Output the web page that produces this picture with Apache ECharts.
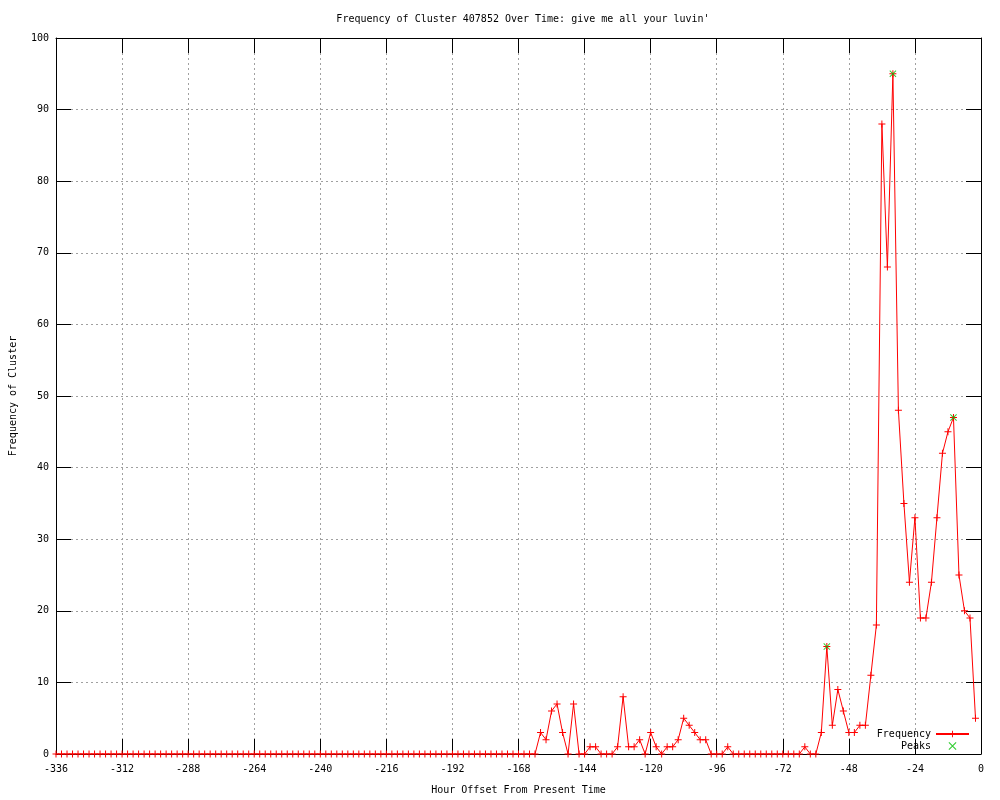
<!DOCTYPE html>
<html>
<head>
<meta charset="utf-8">
<script src="https://cdn.jsdelivr.net/npm/echarts@6/dist/echarts.min.js"></script>
<style>html,body{margin:0;padding:0;background:#fff;}#c{width:1000px;height:800px;}</style>
</head>
<body>
<div id="c"></div>
<script>
const titleText = "Frequency of Cluster 407852 Over Time: give me all your luvin'";
const xName = "Hour Offset From Present Time";
const yName = "Frequency of Cluster";

const hours = [
  -336,-334,-332,-330,-328,-326,-324,-322,-320,-318,-316,-314,
  -312,-310,-308,-306,-304,-302,-300,-298,-296,-294,-292,-290,
  -288,-286,-284,-282,-280,-278,-276,-274,-272,-270,-268,-266,
  -264,-262,-260,-258,-256,-254,-252,-250,-248,-246,-244,-242,
  -240,-238,-236,-234,-232,-230,-228,-226,-224,-222,-220,-218,
  -216,-214,-212,-210,-208,-206,-204,-202,-200,-198,-196,-194,
  -192,-190,-188,-186,-184,-182,-180,-178,-176,-174,-172,-170,
  -168,-166,-164,-162,-160,-158,-156,-154,-152,-150,-148,-146,
  -144,-142,-140,-138,-136,-134,-132,-130,-128,-126,-124,-122,
  -120,-118,-116,-114,-112,-110,-108,-106,-104,-102,-100,-98,
  -96,-94,-92,-90,-88,-86,-84,-82,-80,-78,-76,-74,
  -72,-70,-68,-66,-64,-62,-60,-58,-56,-54,-52,-50,
  -48,-46,-44,-42,-40,-38,-36,-34,-32,-30,-28,-26,
  -24,-22,-20,-18,-16,-14,-12,-10,-8,-6,-4,-2
];
const frequency = [
  0,0,0,0,0,0,0,0,0,0,0,0,
  0,0,0,0,0,0,0,0,0,0,0,0,
  0,0,0,0,0,0,0,0,0,0,0,0,
  0,0,0,0,0,0,0,0,0,0,0,0,
  0,0,0,0,0,0,0,0,0,0,0,0,
  0,0,0,0,0,0,0,0,0,0,0,0,
  0,0,0,0,0,0,0,0,0,0,0,0,
  0,0,0,0,3,2,6,7,3,0,7,0,
  0,1,1,0,0,0,1,8,1,1,2,0,
  3,1,0,1,1,2,5,4,3,2,2,0,
  0,0,1,0,0,0,0,0,0,0,0,0,
  0,0,0,0,1,0,0,3,15,4,9,6,
  3,3,4,4,11,18,88,68,95,48,35,24,
  33,19,19,24,33,42,45,47,25,20,19,5
];
const peakHours = [-56, -32, -10];
const peakValues = [15, 95, 47];

const FONT = 'DejaVu Sans Mono';
const crossPath = 'path://M0,3H7V4H0Z M3,0H4V7H3Z';
const xPath = 'path://M0,0.7L0.7,0L7,6.3L6.3,7Z M6.3,0L7,0.7L0.7,7L0,6.3Z';

const freqData = hours.map((h, i) => [h, frequency[i]]);
const peakData = peakHours.map((h, i) => [h, peakValues[i]]);

const axisLine = { show: true, onZero: false, lineStyle: { color: '#000', width: 1 } };
const tick = { show: true, inside: true, length: 15, lineStyle: { color: '#000', width: 1 } };
const grid = { show: true, lineStyle: { color: '#a0a0a0', width: 1, type: [2, 3] } };
const label = { color: '#000', fontFamily: FONT, fontSize: 10 };

const chart = echarts.init(document.getElementById('c'), null, { renderer: 'canvas' });
chart.setOption({
  animation: false,
  backgroundColor: '#fff',
  title: {
    text: titleText,
    left: 518, top: 9, textAlign: 'center',
    textStyle: { color: '#000', fontFamily: FONT, fontSize: 10, fontWeight: 'normal' }
  },
  grid: { left: 55, right: 19, top: 38, bottom: 40, containLabel: false },
  legend: {
    orient: 'vertical', right: 25, top: 724, align: 'right',
    itemWidth: 33, itemHeight: 8, itemGap: 2,
    textStyle: { color: '#000', fontFamily: FONT, fontSize: 10 },
    data: ['Frequency', 'Peaks']
  },
  xAxis: [
    { type: 'value', position: 'bottom', min: -336, max: 0, interval: 24,
      axisLine, axisTick: tick, splitLine: grid,
      axisLabel: Object.assign({ margin: 10 }, label),
      name: xName, nameLocation: 'middle', nameGap: 31,
      nameTextStyle: { color: '#000', fontFamily: FONT, fontSize: 10 } },
    { type: 'value', position: 'top', min: -336, max: 0, interval: 24,
      axisLine, axisTick: tick, splitLine: { show: false }, axisLabel: { show: false } }
  ],
  yAxis: [
    { type: 'value', position: 'left', min: 0, max: 100, interval: 10,
      axisLine, axisTick: tick, splitLine: grid,
      axisLabel: Object.assign({ margin: 7 }, label),
      name: yName, nameLocation: 'middle', nameGap: 38, nameRotate: 90,
      nameTextStyle: { color: '#000', fontFamily: FONT, fontSize: 10 } },
    { type: 'value', position: 'right', min: 0, max: 100, interval: 10,
      axisLine, axisTick: tick, splitLine: { show: false }, axisLabel: { show: false } }
  ],
  series: [
    { name: 'Frequency', type: 'line', data: freqData,
      symbol: crossPath, symbolSize: 7, showAllSymbol: true,
      itemStyle: { color: '#ff0000' },
      lineStyle: { color: '#ff0000', width: 1 }, z: 3 },
    { name: 'Peaks', type: 'scatter', data: peakData,
      symbol: xPath, symbolSize: 7, symbolKeepAspect: true,
      itemStyle: { color: '#00c000' }, z: 4 }
  ]
});
</script>
</body>
</html>
